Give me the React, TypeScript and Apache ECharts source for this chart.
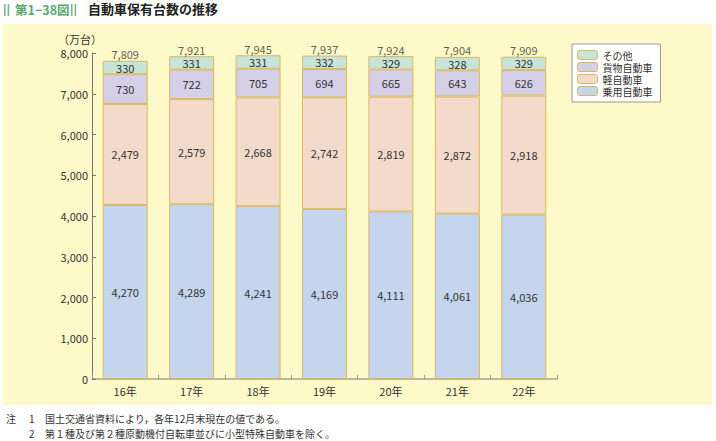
import React, { useEffect, useRef } from "react";
import * as echarts from "echarts";

const categories = ["16年", "17年", "18年", "19年", "20年", "21年", "22年"];
const passenger = [4270, 4289, 4241, 4169, 4111, 4061, 4036];
const kei = [2479, 2579, 2668, 2742, 2819, 2872, 2918];
const cargo = [730, 722, 705, 694, 665, 643, 626];
const other = [330, 331, 331, 332, 329, 328, 329];
const totals = [7809, 7921, 7945, 7937, 7924, 7904, 7909];
const yTicks = [0, 1000, 2000, 3000, 4000, 5000, 6000, 7000, 8000];

const FONT = "'Noto Sans CJK JP', 'Noto Sans', sans-serif";
const fmt = (v: number) => v.toLocaleString("en-US");

export default function App() {
  const ref = useRef<HTMLDivElement>(null);
  useEffect(() => {
    const chart = echarts.init(ref.current!, null, { renderer: "svg" });
    const border = "#d9b860";
    const green = "#7ab88a";
    const mkBar = (name: string, data: number[], color: string) => ({
      name,
      type: "bar",
      stack: "t",
      data,
      barWidth: 45,
      itemStyle: { color, borderColor: border, borderWidth: 1 },
      label: {
        show: true,
        position: "inside",
        formatter: (p: any) => fmt(p.value),
        color: "#333",
        fontSize: 11,
        fontFamily: FONT,
      },
    });
    chart.setOption({
      animation: false,
      textStyle: { fontFamily: FONT },
      graphic: [
        { id: "panel", type: "rect", shape: { x: 3, y: 24, width: 709, height: 381 }, style: { fill: "#fef9c8" }, z: -10 },
        { id: "b1", type: "rect", shape: { x: 4, y: 4, width: 1.6, height: 12 }, style: { fill: green } },
        { id: "b2", type: "rect", shape: { x: 7.6, y: 4, width: 1.6, height: 12 }, style: { fill: green } },
        { id: "fig", type: "text", x: 15, y: 3, style: { text: "第1−38図", fill: "#5aa870", font: `bold 12.5px ${FONT}` } },
        { id: "b3", type: "rect", shape: { x: 71, y: 4, width: 1.6, height: 12 }, style: { fill: green } },
        { id: "b4", type: "rect", shape: { x: 74.6, y: 4, width: 1.6, height: 12 }, style: { fill: green } },
        { id: "title", type: "text", x: 88, y: 2, style: { text: "自動車保有台数の推移", fill: "#222", font: `bold 13px ${FONT}` } },
        { id: "unit", type: "text", x: 58, y: 33, style: { text: "（万台）", fill: "#333", font: `11px ${FONT}` } },
        { id: "n0", type: "text", x: 6, y: 413, style: { text: "注", fill: "#333", font: `10px ${FONT}` } },
        { id: "n1", type: "text", x: 29, y: 413, style: { text: "1", fill: "#333", font: `10px ${FONT}` } },
        { id: "n1t", type: "text", x: 45, y: 413, style: { text: "国土交通省資料により，各年12月末現在の値である。", fill: "#333", font: `10px ${FONT}` } },
        { id: "n2", type: "text", x: 29, y: 428, style: { text: "2", fill: "#333", font: `10px ${FONT}` } },
        { id: "n2t", type: "text", x: 45, y: 428, style: { text: "第１種及び第２種原動機付自転車並びに小型特殊自動車を除く。", fill: "#333", font: `10px ${FONT}` } },
      ],
      legend: {
        orient: "vertical",
        left: 572,
        top: 44,
        data: ["その他", "貨物自動車", "軽自動車", "乗用自動車"],
        itemWidth: 20,
        itemHeight: 9,
        itemGap: 0,
        padding: [5, 8, 5, 5],
        borderColor: "#999",
        borderWidth: 1,
        backgroundColor: "#ffffff",
        textStyle: { fontSize: 10, lineHeight: 12, color: "#333", fontFamily: FONT },
        itemStyle: { borderColor: border, borderWidth: 1 },
      },
      grid: { left: 92, right: 159, top: 53, bottom: 62 },
      xAxis: {
        type: "category",
        data: categories,
        axisLine: { lineStyle: { color: "#aaa58c", width: 1.5 } },
        axisTick: { show: true, inside: true, length: 4, lineStyle: { color: "#999" } },
        axisLabel: { color: "#333", fontSize: 11, margin: 6, fontFamily: FONT },
      },
      yAxis: {
        type: "value",
        min: 0,
        max: 8000,
        interval: 1000,
        axisLine: { show: true, lineStyle: { color: "#777" } },
        axisTick: { show: true, inside: true, length: 4, lineStyle: { color: "#777" } },
        axisLabel: { color: "#333", fontSize: 11, margin: 4, formatter: (v: number) => (yTicks.includes(v) ? fmt(v) : "") },
        splitLine: { show: false },
      },
      series: [
        mkBar("乗用自動車", passenger, "#c5d5ed"),
        mkBar("軽自動車", kei, "#f3dacb"),
        mkBar("貨物自動車", cargo, "#d5cfe8"),
        mkBar("その他", other, "#c8e3d7"),
        {
          name: "合計",
          type: "scatter",
          data: totals,
          symbolSize: 0,
          silent: true,
          label: {
            show: true,
            position: "top",
            distance: 1,
            formatter: (p: any) => fmt(p.value),
            color: "#333",
            fontSize: 11,
            fontFamily: FONT,
          },
        },
      ],
    });
    return () => chart.dispose();
  }, []);
  return (
    <div
      ref={ref}
      style={{ position: "absolute", left: 0, top: 0, width: 716, height: 441, background: "#ffffff" }}
    />
  );
}
